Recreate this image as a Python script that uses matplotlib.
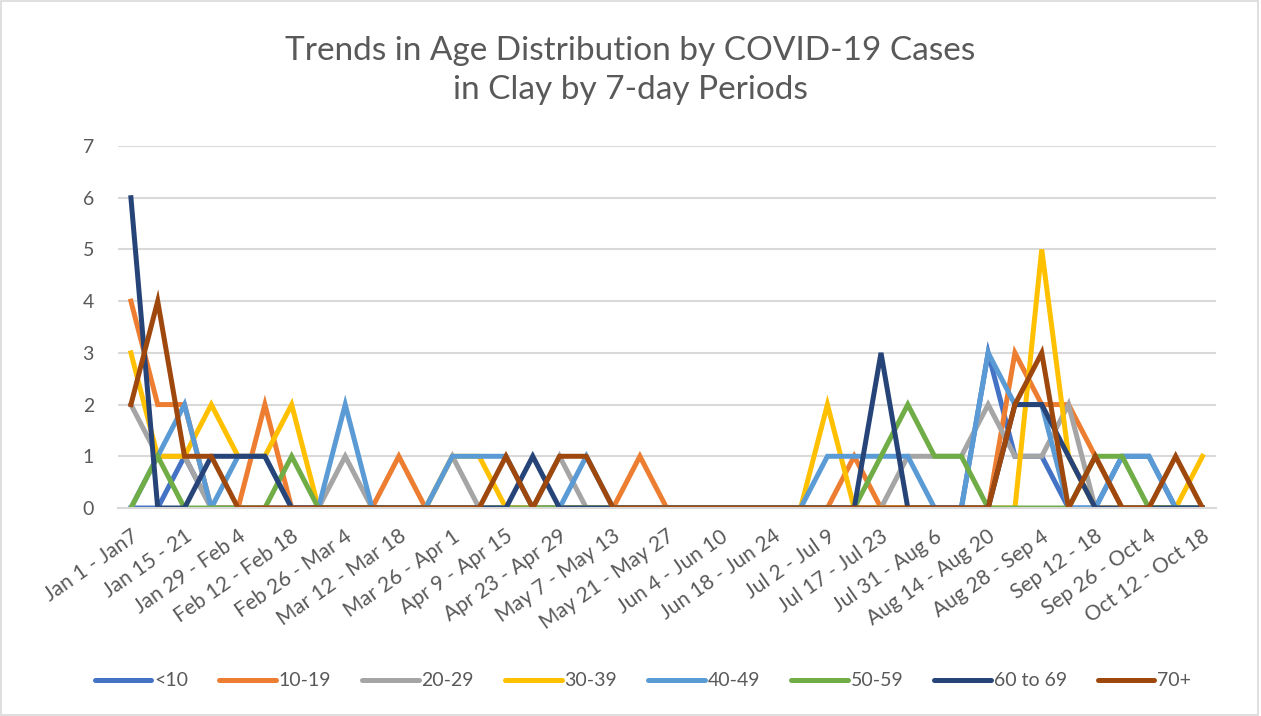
import numpy as np
import matplotlib
matplotlib.use("Agg")
from matplotlib import pyplot as plt
from matplotlib.patches import Rectangle
from matplotlib.transforms import ScaledTranslation

tick_labels = ["Jan 1 - Jan7", "Jan 15 - 21", "Jan 29 - Feb 4", "Feb 12 - Feb 18",
               "Feb 26 - Mar 4", "Mar 12 - Mar 18", "Mar 26 - Apr 1", "Apr 9 - Apr 15",
               "Apr 23 - Apr 29", "May 7 - May 13", "May 21 - May 27", "Jun 4 - Jun 10",
               "Jun 18 - Jun 24", "Jul 2 - Jul 9", "Jul 17 - Jul 23", "Jul 31 - Aug 6",
               "Aug 14 - Aug 20", "Aug 28 - Sep 4", "Sep 12 - 18", "Sep 26 - Oct 4",
               "Oct 12 - Oct 18"]

# 41 weekly periods
under10 = [0, 0, 1, 0, 0, 0, 0, 0, 0, 0, 0, 0, 0, 0, 0, 0, 0, 0, 0, 0, 0,
           0, 0, 0, 0, 0, 0, 0, 0, 0, 0, 0, 3, 1, 1, 0, 0, 1, 1, 0, 0]
age10_19 = [4, 2, 2, 0, 0, 2, 0, 0, 0, 0, 1, 0, 0, 0, 0, 0, 0, 0, 0, 1, 0,
            0, 0, 0, 0, 0, 0, 1, 0, 0, 0, 0, 0, 3, 2, 2, 1, 0, 0, 0, 0]
age20_29 = [2, 1, 1, 0, 0, 0, 0, 0, 1, 0, 0, 0, 1, 0, 0, 0, 1, 0, 0, 0, 0,
            0, 0, 0, 0, 0, 0, 0, 0, 1, 1, 1, 2, 1, 1, 2, 0, 0, 0, 0, 0]
age30_39 = [3, 1, 1, 2, 1, 1, 2, 0, 0, 0, 0, 0, 1, 1, 0, 0, 0, 0, 0, 0, 0,
            0, 0, 0, 0, 0, 2, 0, 0, 0, 0, 0, 0, 0, 5, 1, 0, 0, 0, 0, 1]
age40_49 = [0, 1, 2, 0, 1, 1, 0, 0, 2, 0, 0, 0, 1, 1, 1, 0, 0, 1, 0, 0, 0,
            0, 0, 0, 0, 0, 1, 1, 1, 1, 0, 0, 3, 2, 2, 0, 0, 1, 1, 0, 0]
age50_59 = [0, 1, 0, 0, 0, 0, 1, 0, 0, 0, 0, 0, 0, 0, 0, 0, 0, 0, 0, 0, 0,
            0, 0, 0, 0, 0, 0, 0, 1, 2, 1, 1, 0, 0, 0, 0, 1, 1, 0, 0, 0]
age60_69 = [6, 0, 0, 1, 1, 1, 0, 0, 0, 0, 0, 0, 0, 0, 0, 1, 0, 0, 0, 0, 0,
            0, 0, 0, 0, 0, 0, 0, 3, 0, 0, 0, 0, 2, 2, 1, 0, 0, 0, 0, 0]
age70 = [2, 4, 1, 1, 0, 0, 0, 0, 0, 0, 0, 0, 0, 0, 1, 0, 1, 1, 0, 0, 0,
         0, 0, 0, 0, 0, 0, 0, 0, 0, 0, 0, 0, 2, 3, 0, 1, 0, 0, 1, 0]

series = [("<10", under10, "#4472C4"), ("10-19", age10_19, "#ED7D31"),
          ("20-29", age20_29, "#A5A5A5"), ("30-39", age30_39, "#FFC000"),
          ("40-49", age40_49, "#5B9BD5"), ("50-59", age50_59, "#70AD47"),
          ("60 to 69", age60_69, "#264478"), ("70+", age70, "#9E480E")]

plt.rcParams['font.family'] = ['Lato', 'DejaVu Sans']
txt = "#595959"

fig = plt.figure(figsize=(12.61, 7.16), dpi=100)
ax = fig.add_axes([0.0932, 0.2905, 0.871, 0.5056])

x = np.arange(len(under10))
for name, vals, col in series:
    ax.plot(x, vals, color=col, linewidth=3.6, label=name, solid_joinstyle='miter')

ax.set_xlim(-0.5, len(x) - 0.5)
ax.set_ylim(0, 7)
ax.set_yticks(range(8))
ax.yaxis.grid(True, color="#D9D9D9", linewidth=1.5)
ax.set_axisbelow(True)
for s in ["top", "right", "left"]:
    ax.spines[s].set_visible(False)
ax.spines["bottom"].set_color("#D9D9D9")
ax.spines["bottom"].set_linewidth(1.5)
ax.tick_params(axis="both", length=0, colors=txt, labelsize=14)
ax.tick_params(axis="y", pad=17)
ax.tick_params(axis="x", pad=19)
ax.set_xticks(x[::2])
ax.set_xticklabels(tick_labels, rotation=35, ha="right", va="center",
                   rotation_mode="anchor", fontsize=15)
shift = ScaledTranslation(0.05, 0, fig.dpi_scale_trans)
for lab in ax.get_xticklabels():
    lab.set_transform(lab.get_transform() + shift)

fig.text(0.5, 0.9015, "Trends in Age Distribution by COVID-19 Cases\nin Clay by 7-day Periods",
         ha="center", va="center", fontsize=24, color=txt, linespacing=1.4)

leg = fig.legend(loc="center", bbox_to_anchor=(0.51, 0.049), ncol=8, frameon=False,
                 fontsize=14, handlelength=2.9, columnspacing=1.6, labelcolor=txt,
                 handletextpad=0.15)
for h in leg.get_lines():
    h.set_linewidth(3.6)
    h.set_solid_capstyle("round")

fig.patches.append(Rectangle((0.001, 0.002), 0.997, 0.996, transform=fig.transFigure,
                             fill=False, edgecolor="#D9D9D9", linewidth=1.2))

fig.savefig("out.png", dpi=100)
